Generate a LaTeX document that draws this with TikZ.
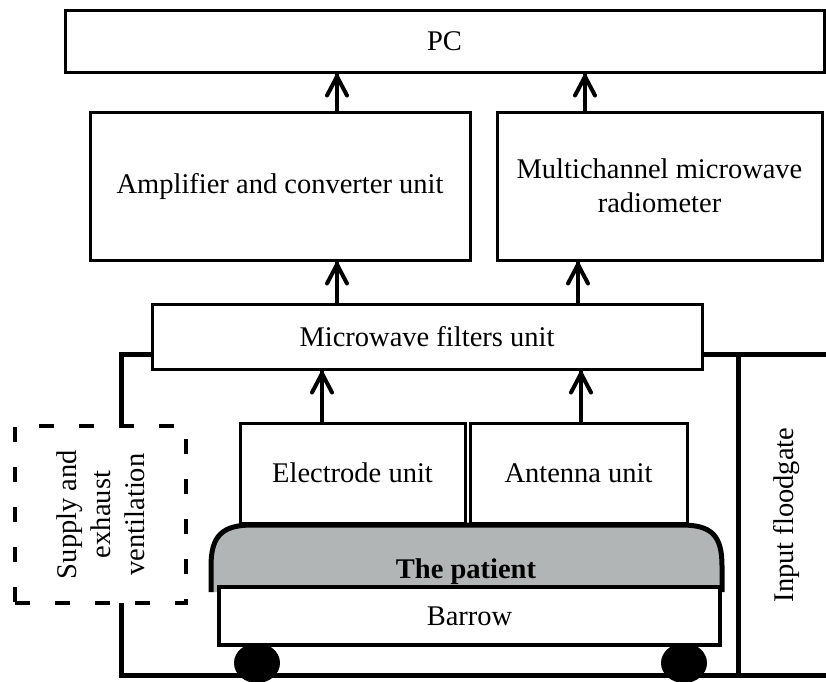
\documentclass[tikz,border=0pt]{standalone}
\usepackage{fontspec}
\setmainfont{Liberation Serif}
\definecolor{patientgray}{RGB}{178,181,181}
\tikzset{
  box/.style={draw=black, line width=3pt, fill=white, align=center, inner sep=0pt},
  arr/.style={line width=4pt},
  head/.style={line width=4pt, line cap=round, line join=round},
  encl/.style={line width=5pt},
  ventbox/.style={draw=black, line width=4.5pt, dash pattern=on 15pt off 25pt, align=center},
  every node/.style={font=\fontsize{28.5}{34}\selectfont},
}
\begin{document}
\begin{tikzpicture}[x=1pt,y=-1pt]
\useasboundingbox (0,0) rectangle (826,681);
% enclosure
\draw[encl] (152,354) -- (121,354) -- (121,426);
\draw[encl] (121,603) -- (121,675) -- (826,675);
\draw[encl] (702,354) -- (826,354);
\draw[encl] (738,354) -- (738,675);
% boxes
\node[box, minimum width=759pt, minimum height=62pt] (pc) at (444.5,41) {PC};
\node[box, minimum width=380pt, minimum height=148pt] (amp) at (280,186) {Amplifier and converter unit};
\node[box, minimum width=325pt, minimum height=148pt] (multi) at (659.5,186) {Multichannel microwave\\radiometer};
\node[box, minimum width=550pt, minimum height=65pt] (filt) at (427,336.5) {Microwave filters unit};
\node[box, minimum width=225pt, minimum height=100pt] (elec) at (352.5,473) {Electrode unit};
\node[box, minimum width=217pt, minimum height=100pt] (ant) at (578.5,473) {Antenna unit};
% wheels
\fill (257,663) ellipse (23pt and 20pt);
\fill (684,663) ellipse (23pt and 20pt);
% patient
\draw[line width=5pt, fill=patientgray] (211,592) -- (211,566) .. controls (211,536) and (222,525) .. (252,525) -- (682,525) .. controls (712,525) and (722,536) .. (722,566) -- (722,592);
\node[font=\fontsize{28.5}{34}\selectfont\bfseries] (pat) at (466,572) {The patient};
\node[box, line width=4.5pt, minimum width=501pt, minimum height=58pt] (bar) at (469.5,616) {Barrow};
% ventilation
\node[ventbox, minimum width=171pt, minimum height=177pt] (vent) at (100.5,514.5) {};
\node[rotate=90, align=center] (venttext) at (vent.center) {Supply and\\exhaust\\ventilation};
\node[rotate=90] (flood) at (787,515) {Input floodgate};
% arrows
\coordinate (c1) at (337,0);
\coordinate (c2) at (585,0);
\coordinate (c3) at (337,0);
\coordinate (c4) at (578,0);
\coordinate (c5) at (322,0);
\coordinate (c6) at (581,0);
\draw[arr] (c1 |- amp.north) -- (c1 |- pc.south);
\draw[head] (c1 |- pc.south) ++(-10,22) -- ++(10,-19) -- ++(10,19);
\draw[arr] (c2 |- multi.north) -- (c2 |- pc.south);
\draw[head] (c2 |- pc.south) ++(-10,22) -- ++(10,-19) -- ++(10,19);
\draw[arr] (c3 |- filt.north) -- (c3 |- amp.south);
\draw[head] (c3 |- amp.south) ++(-10,22) -- ++(10,-19) -- ++(10,19);
\draw[arr] (c4 |- filt.north) -- (c4 |- multi.south);
\draw[head] (c4 |- multi.south) ++(-10,22) -- ++(10,-19) -- ++(10,19);
\draw[arr] (c5 |- elec.north) -- (c5 |- filt.south);
\draw[head] (c5 |- filt.south) ++(-10,22) -- ++(10,-19) -- ++(10,19);
\draw[arr] (c6 |- ant.north) -- (c6 |- filt.south);
\draw[head] (c6 |- filt.south) ++(-10,22) -- ++(10,-19) -- ++(10,19);
\end{tikzpicture}
\end{document}
